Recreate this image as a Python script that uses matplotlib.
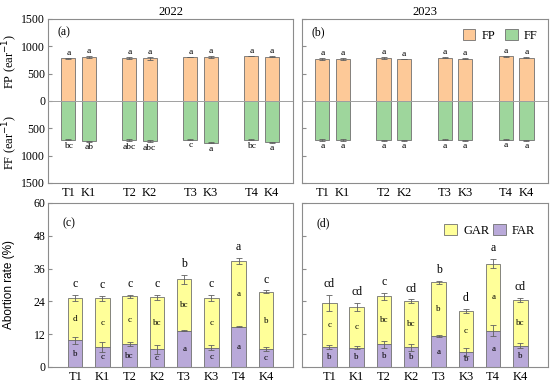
import matplotlib
matplotlib.use('Agg')
import matplotlib.pyplot as plt
import numpy as np

# treatments
treat = ['T1', 'K1', 'T2', 'K2', 'T3', 'K3', 'T4', 'K4']
years = ['2022', '2023']

# fertile florets (FP) and floret formation (FF), ear-1
fp22 = [785, 805, 790, 780, 805, 808, 825, 808]
fp22_err = [10, 15, 22, 22, 6, 14, 6, 12]
ff22 = [705, 735, 720, 730, 705, 760, 705, 755]
ff22_err = [10, 12, 18, 18, 4, 12, 8, 10]
fp23 = [770, 770, 790, 770, 795, 775, 815, 790]
fp23_err = [25, 15, 20, 5, 15, 15, 15, 10]
ff23 = [715, 715, 715, 715, 705, 715, 705, 715]
ff23_err = [12, 12, 8, 8, 12, 10, 5, 8]

fp22_let = ['a'] * 8
ff22_let = ['bc', 'ab', 'abc', 'abc', 'c', 'a', 'bc', 'a']
fp23_let = ['a'] * 8
ff23_let = ['a'] * 8

# abortion rate (%)
far22 = [9.8, 7.2, 8.3, 6.4, 13.2, 7.0, 14.7, 6.5]
far22_err = [1.3, 1.9, 0.8, 1.5, 0.2, 0.9, 0.2, 0.8]
gar22 = [15.5, 17.9, 17.5, 19.1, 18.9, 18.2, 24.1, 21.0]
tot22_err = [1.0, 0.8, 0.6, 1.0, 1.6, 1.0, 1.0, 0.5]
far23 = [7.3, 7.1, 8.3, 7.2, 11.3, 5.6, 13.3, 7.8]
far23_err = [0.9, 0.7, 1.2, 1.3, 0.3, 1.4, 2.0, 0.8]
gar23 = [16.0, 14.7, 17.5, 16.8, 19.7, 14.8, 24.5, 16.7]
tot23_err = [3.0, 1.5, 1.2, 0.7, 0.5, 0.8, 1.7, 0.9]

tot22_let = ['c', 'c', 'c', 'c', 'b', 'c', 'a', 'c']
gar22_let = ['d', 'c', 'c', 'bc', 'bc', 'c', 'a', 'b']
far22_let = ['b', 'c', 'bc', 'c', 'a', 'c', 'a', 'c']
tot23_let = ['cd', 'cd', 'c', 'cd', 'b', 'd', 'a', 'cd']
gar23_let = ['c', 'c', 'bc', 'bc', 'b', 'c', 'a', 'bc']
far23_let = ['b', 'b', 'b', 'b', 'a', 'b', 'a', 'b']

c_fp = '#fdc998'
c_ff = '#9ed69c'
c_gar = '#ffff99'
c_far = '#b9a9d9'
edge = '#707070'
spine = '#8c8c8c'

plt.rcParams['font.family'] = ['Liberation Serif', 'DejaVu Serif']
plt.rcParams['font.size'] = 8.5

fig = plt.figure(figsize=(5.5, 3.85), dpi=100)
ax_a = fig.add_axes([0.0873, 0.5247, 0.4455, 0.426])
ax_b = fig.add_axes([0.549, 0.5247, 0.447, 0.426])
ax_c = fig.add_axes([0.0873, 0.0468, 0.4455, 0.426])
ax_d = fig.add_axes([0.549, 0.0468, 0.447, 0.426])

def style(ax):
    for s in ax.spines.values():
        s.set_color(spine)
        s.set_linewidth(0.8)
    ax.tick_params(axis='y', direction='in', length=3, color=spine, pad=2)
    ax.tick_params(axis='x', length=0, pad=3)

# top panels
xt = np.array([0, 1, 3, 4, 6, 7, 9, 10])
ek = dict(ecolor='#606060', capsize=2, elinewidth=0.6, capthick=0.6)
for ax, fp, fpe, ff, ffe, fl, fl2, lab, yr in [
        (ax_a, fp22, fp22_err, ff22, ff22_err, fp22_let, ff22_let, '(a)', years[0]),
        (ax_b, fp23, fp23_err, ff23, ff23_err, fp23_let, ff23_let, '(b)', years[1])]:
    ax.bar(xt, fp, 0.7, yerr=fpe, color=c_fp, edgecolor=edge, linewidth=0.6,
           error_kw=ek, label='FP', zorder=2)
    ax.bar(xt, -np.array(ff), 0.7, yerr=ffe, color=c_ff, edgecolor=edge, linewidth=0.6,
           error_kw=ek, label='FF', zorder=2)
    ax.axhline(0, color='#a0a0a0', lw=0.7, zorder=3)
    for i in range(8):
        ax.text(xt[i], fp[i] + fpe[i] + 15, fl[i], ha='center', va='bottom', fontsize=6.8)
        ax.text(xt[i], -(ff[i] + ffe[i] + 30), fl2[i], ha='center', va='top', fontsize=6.8)
    ax.set_xlim(-1, 11.05)
    ax.set_ylim(-1500, 1500)
    ax.set_yticks([-1500, -1000, -500, 0, 500, 1000, 1500])
    ax.set_xticks(xt)
    ax.set_xticklabels(treat, fontsize=9)
    ax.text(0.04, 0.9, lab, transform=ax.transAxes, fontsize=8.5)
    ax.set_title(yr, fontsize=9, pad=3)
    style(ax)

ax_a.set_yticklabels(['1500', '1000', '500', '0', '500', '1000', '1500'])
ax_b.set_yticklabels([])
fig.text(0.019, 0.84, 'FP (ear$^{-1}$)', rotation=90, ha='center', va='center', fontsize=9)
fig.text(0.019, 0.63, 'FF (ear$^{-1}$)', rotation=90, ha='center', va='center', fontsize=9)
ax_b.legend(loc='upper right', ncol=2, frameon=False, handlelength=1.0, handleheight=1.0,
            columnspacing=0.8, handletextpad=0.5, fontsize=9, borderaxespad=0.4)

# bottom panels
xb = np.arange(8)
for ax, far, fare, gar, tote, tl, gl, fl, lab in [
        (ax_c, far22, far22_err, gar22, tot22_err, tot22_let, gar22_let, far22_let, '(c)'),
        (ax_d, far23, far23_err, gar23, tot23_err, tot23_let, gar23_let, far23_let, '(d)')]:
    far = np.array(far)
    gar = np.array(gar)
    tot = far + gar
    ax.bar(xb, gar, 0.53, bottom=far, yerr=tote, color=c_gar, edgecolor=edge,
           linewidth=0.6, error_kw=ek, label='GAR', zorder=2)
    ax.bar(xb, far, 0.53, yerr=fare, color=c_far, edgecolor=edge,
           linewidth=0.6, error_kw=ek, label='FAR', zorder=2)
    for i in range(8):
        ax.text(xb[i], tot[i] + tote[i] + 1.8, tl[i], ha='center', va='bottom', fontsize=8.5)
        ax.text(xb[i], far[i] + gar[i] / 2, gl[i], ha='center', va='center', fontsize=6.5)
        ax.text(xb[i], far[i] / 2, fl[i], ha='center', va='center', fontsize=6.5)
    ax.set_xlim(-1, 8)
    ax.set_ylim(0, 60)
    ax.set_yticks([0, 12, 24, 36, 48, 60])
    ax.set_xticks(xb)
    ax.set_xticklabels(treat, fontsize=9)
    ax.text(0.06, 0.86, lab, transform=ax.transAxes, fontsize=8.5)
    style(ax)

ax_d.set_yticklabels([])
fig.text(0.017, 0.26, 'Abortion rate (%)', rotation=90, ha='center', va='center',
         family=['Liberation Sans', 'DejaVu Sans'], fontsize=8.5)
ax_d.legend(loc='upper right', ncol=2, frameon=False, handlelength=1.0, handleheight=1.0,
            columnspacing=0.3, handletextpad=0.5, fontsize=9, borderaxespad=0.6,
            bbox_to_anchor=(1.0, 0.95))

fig.savefig('out.png', dpi=100)
